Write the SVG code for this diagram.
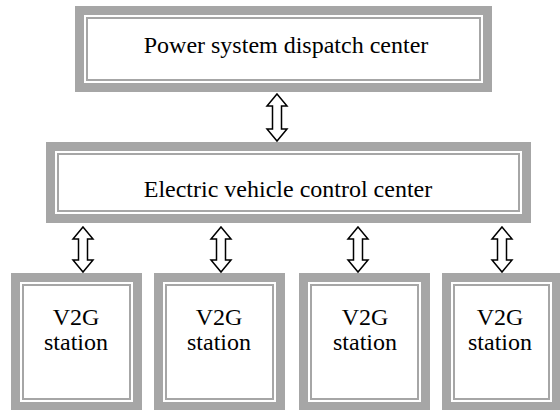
<svg xmlns="http://www.w3.org/2000/svg" width="560" height="410" viewBox="0 0 560 410">
<style>
.bg{fill:#ffffff}
.thick{fill:#ffffff;stroke:#a6a6a6;stroke-width:9}
.thin{fill:none;stroke:#a6a6a6;stroke-width:2}
.lbl{font-family:"Liberation Serif","Times New Roman",serif;font-size:24px;fill:#000;text-anchor:middle}
.arr{fill:#ffffff;stroke:#000;stroke-width:1.5;stroke-linejoin:miter}
</style>
<rect class="bg" x="0" y="0" width="560" height="410"/>
<g id="dispatch">
<rect class="thick" x="79.5" y="10.5" width="408" height="77"/>
<rect class="thin" x="87" y="18" width="393" height="62"/>
<text class="lbl" x="286" y="53">Power system dispatch center</text>
</g>
<g id="control">
<rect class="thick" x="50.5" y="146.5" width="476" height="72"/>
<rect class="thin" x="58" y="154" width="461" height="57"/>
<text class="lbl" x="288" y="197">Electric vehicle control center</text>
</g>
<g id="v2g1">
<rect class="thick" x="15.5" y="277.5" width="122" height="129"/>
<rect class="thin" x="23" y="285" width="107" height="114"/>
<text class="lbl" x="76" y="325">V2G</text>
<text class="lbl" x="76" y="350">station</text>
</g>
<g id="v2g2">
<rect class="thick" x="158.5" y="277.5" width="122" height="129"/>
<rect class="thin" x="166" y="285" width="107" height="114"/>
<text class="lbl" x="219" y="325">V2G</text>
<text class="lbl" x="219" y="350">station</text>
</g>
<g id="v2g3">
<rect class="thick" x="303.5" y="277.5" width="122" height="129"/>
<rect class="thin" x="311" y="285" width="107" height="114"/>
<text class="lbl" x="365" y="325">V2G</text>
<text class="lbl" x="365" y="350">station</text>
</g>
<g id="v2g4">
<rect class="thick" x="446.5" y="277.5" width="110" height="129"/>
<rect class="thin" x="454" y="285" width="95" height="114"/>
<text class="lbl" x="500" y="325">V2G</text>
<text class="lbl" x="500" y="350">station</text>
</g>
<g id="connectors">
<path class="arr" d="M277,94 L287,106 L281.5,106 L281.5,129 L287,129 L277,141 L267,129 L272.5,129 L272.5,106 L267,106 Z"/>
<path class="arr" d="M83,227 L93,239 L87.5,239 L87.5,260 L93,260 L83,272 L73,260 L78.5,260 L78.5,239 L73,239 Z"/>
<path class="arr" d="M221,227 L231,239 L225.5,239 L225.5,260 L231,260 L221,272 L211,260 L216.5,260 L216.5,239 L211,239 Z"/>
<path class="arr" d="M358,227 L368,239 L362.5,239 L362.5,260 L368,260 L358,272 L348,260 L353.5,260 L353.5,239 L348,239 Z"/>
<path class="arr" d="M502,227 L512,239 L506.5,239 L506.5,260 L512,260 L502,272 L492,260 L497.5,260 L497.5,239 L492,239 Z"/>
</g>
</svg>
